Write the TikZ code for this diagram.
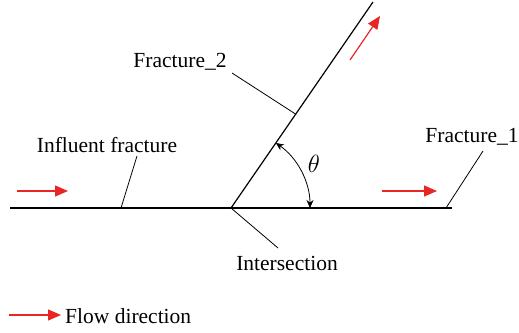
\documentclass[tikz,border=0pt]{standalone}
\usepackage{fontspec}
\setmainfont{Liberation Serif}
\usetikzlibrary{arrows.meta, positioning, calc}
\definecolor{flowred}{RGB}{232,38,38}
\tikzset{
  fracture/.style = {line width=1.2pt, black},
  leader/.style = {line width=0.8pt, black},
  flow/.style = {line width=1.2pt, flowred, -{Triangle[length=13pt,width=11pt]}},
  lbl/.style = {inner sep=1pt, font=\fontsize{21.5}{25}\selectfont},
  anglearrow/.style = {line width=0.8pt, {Stealth[length=8pt,width=7pt]}-{Stealth[length=8pt,width=7pt]}}
}
\begin{document}
\begin{tikzpicture}[x=1pt, y=-1pt]
\useasboundingbox (0,0) rectangle (519,332);
% fracture lines
\coordinate (left) at (10,208);
\coordinate (cross) at (231,208);
\coordinate (right) at (452,208);
\coordinate (top) at (373,2);
\draw [fracture] (left) -- (right);
\draw [fracture] (cross) -- (top);

% labels
\node (influent) [lbl] at (107,145) {Influent fracture};
\node (frac2) [lbl] at (180,62) {Fracture\_2};
\node (frac1) [lbl] at (472,137) {Fracture\_1};
\node (inter) [lbl] at (287,263) {Intersection};
\node (theta) [lbl, font=\fontsize{24}{28}\selectfont] at (314,164) {$\theta$};

% leader lines
\coordinate (p1) at (121,208);
\coordinate (p2) at (295.5,114);
\coordinate (p3) at (446,208);
\draw [leader] (137,156) -- (p1);
\draw [leader] (232,73) -- (p2);
\draw [leader] (483,151) -- (p3);
\draw [leader] (cross) -- (278,248);

% angle
\draw [anglearrow] ($(cross)+(-55.42:79)$) arc[start angle=-55.42, end angle=0, radius=79];

% flow arrows
\coordinate (a1) at (17,191);
\coordinate (b1) at (68,191);
\coordinate (a2) at (382,191);
\coordinate (b2) at (437,191);
\coordinate (a3) at (350,60);
\coordinate (b3) at (380,16);
\draw [flow] (a1) -- (b1);
\draw [flow] (a2) -- (b2);
\draw [flow] (a3) -- (b3);

% legend
\coordinate (la) at (9,315);
\coordinate (lb) at (61,315);
\draw [flow] (la) -- (lb);
\node (legend) [lbl, anchor=west] at (64,316) {Flow direction};
\end{tikzpicture}
\end{document}
